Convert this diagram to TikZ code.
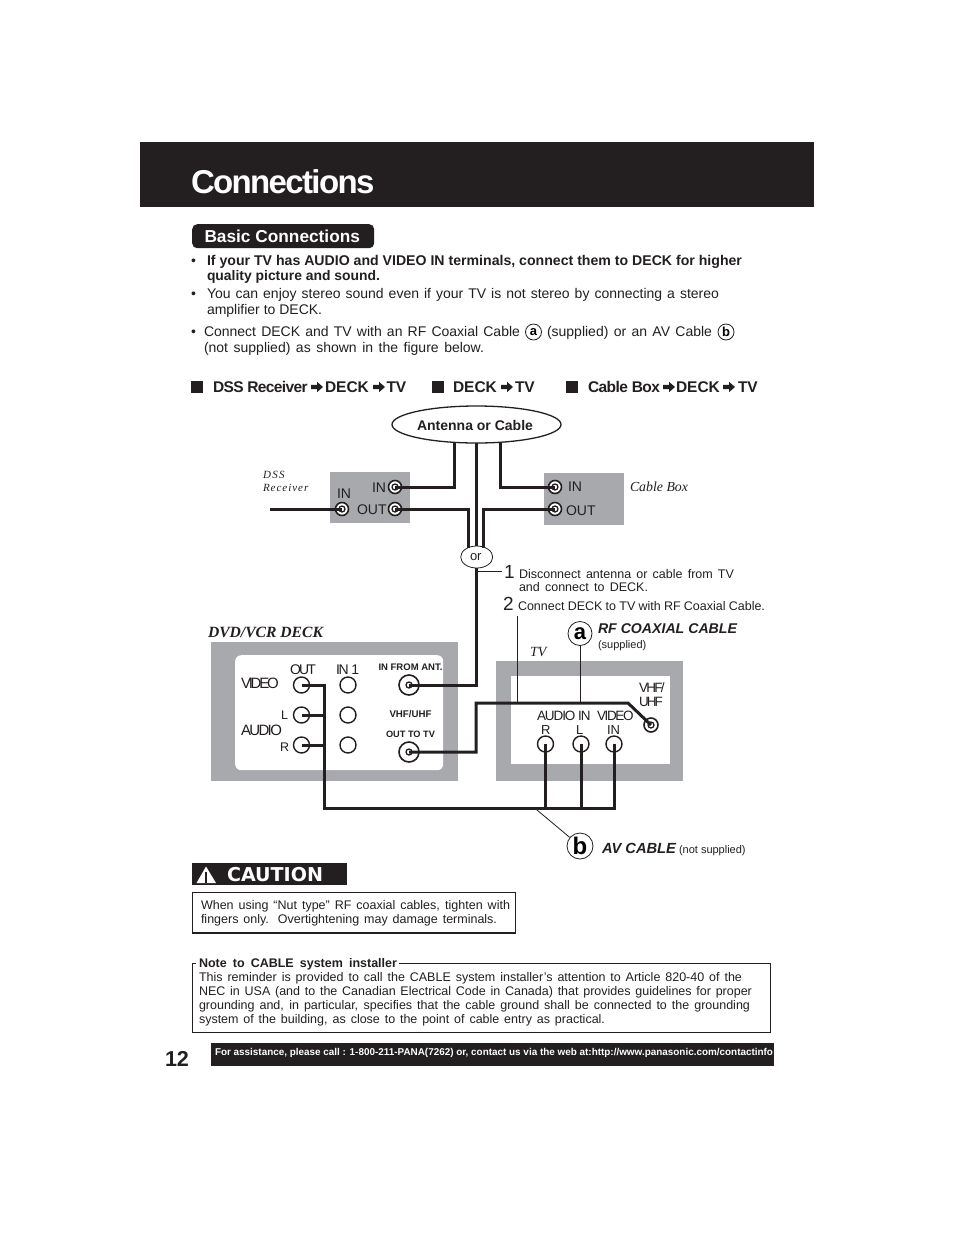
\documentclass[tikz,border=0pt]{standalone}
\usepackage{fontspec}
\setmainfont{Liberation Sans}
\newfontfamily\serifit[ItalicFont={Liberation Serif Italic},BoldItalicFont={Liberation Serif Bold Italic}]{Liberation Serif}
\newfontfamily\cautionfont{DejaVu Sans}
\usetikzlibrary{shapes.geometric,calc}
\definecolor{ink}{HTML}{231F20}
\definecolor{panel}{HTML}{A7A9AC}
\newcommand{\tl}[6][]{\node[lab,#1] (#2) at (#3,#4) {\fontsize{#5}{#5}\selectfont #6};}
\newcommand{\js}[2]{\makebox[#1pt][s]{#2}}
\newcommand{\fitw}[2]{\resizebox{#1pt}{!}{#2}}
\newcommand{\trk}[2]{{\addfontfeature{LetterSpace=#1}#2}}
\newcommand{\harrow}[1]{\fill[ink] ($(#1)+(0,-2.2)$) -- ++(6,0) -- ++(0,-3) -- ++(6,5.2) -- ++(-6,5.2) -- ++(0,-3) -- ++(-6,0) -- cycle;}
\tikzset{
  lab/.style={inner sep=0,outer sep=0,anchor=base west,text=ink},
  wire/.style={line width=3.0,draw=ink,line join=miter},
  lead/.style={line width=0.8,draw=ink},
  coax/.style={circle,draw=ink,fill=white,line width=1.6,minimum size=#1,inner sep=0,
    path picture={\draw[ink,line width=1.3] (path picture bounding box.center) circle (3);}},
  jack/.style={circle,draw=ink,fill=white,line width=1.4,minimum size=16,inner sep=0},
  badge/.style={circle,draw=ink,fill=white,line width=0.8,inner sep=0,minimum size=#1},
  sq/.style={fill=ink,draw=none,minimum size=12,inner sep=0}
}
\begin{document}
\begin{tikzpicture}[x=1pt,y=-1pt]
\useasboundingbox (0,0) rectangle (954,1235);
\fill[white] (0,0) rectangle (954,1235);
% header
\node[fill=ink,minimum width=674,minimum height=65,inner sep=0,anchor=north west] (header) at (140,142) {};
\tl[text=white]{title}{191}{193.5}{33}{\bfseries \trk{-5}{Connections}}
\node[fill=ink,rounded corners=5,minimum width=182,minimum height=24,inner sep=0,anchor=north west] (pill) at (192,224) {};
\tl[text=white]{basic}{204.5}{242}{17}{\bfseries \fitw{155.5}{Basic Connections}}
% bullets
\tl{b1}{191}{265}{14}{•}
\tl{t1}{207}{265}{13.5}{\bfseries\fitw{535}{If your TV has AUDIO and VIDEO IN terminals, connect them to DECK for higher}}
\tl{t2}{207}{280}{13.5}{\bfseries\fitw{173}{quality picture and sound.}}
\tl{b2}{191}{298}{14}{•}
\tl{t3}{207}{298}{14}{\js{512}{You can enjoy stereo sound even if your TV is not stereo by connecting a stereo}}
\tl{t4}{207}{314}{14}{amplifier to DECK.}
\tl{b3}{191}{336}{14}{•}
\tl{t5}{204}{336}{14}{\js{316}{Connect DECK and TV with an RF Coaxial Cable}}
\node[badge=16] (ca) at (533.5,332) {\fontsize{13}{13}\selectfont\bfseries a};
\tl{t6}{547}{336}{14}{\js{165}{(supplied) or an AV Cable}}
\node[badge=16] (cb) at (726,332) {\fontsize{13}{13}\selectfont\bfseries b};
\tl{t7}{204}{352}{14}{\js{280}{(not supplied) as shown in the figure below.}}
% routes
\node[sq,anchor=north west] (s1) at (191,381) {};
\tl{r1}{213}{392}{15.5}{\bfseries\trk{-4}{DSS Receiver}}
\coordinate (a1) at (311,387); \harrow{a1}
\tl{r2}{325}{392}{15.5}{\bfseries DECK}
\coordinate (a2) at (373,387); \harrow{a2}
\tl{r3}{386.5}{392}{15.5}{\bfseries TV}
\node[sq,anchor=north west] (s2) at (432,381) {};
\tl{r4}{453}{392}{15.5}{\bfseries DECK}
\coordinate (a3) at (501,387); \harrow{a3}
\tl{r5}{515}{392}{15.5}{\bfseries TV}
\node[sq,anchor=north west] (s3) at (566,381) {};
\tl{r6}{588}{392}{15.5}{\bfseries\trk{-3.5}{Cable Box}}
\coordinate (a4) at (663,387); \harrow{a4}
\tl{r7}{676}{392}{15.5}{\bfseries DECK}
\coordinate (a5) at (723,387); \harrow{a5}
\tl{r8}{738}{392}{15.5}{\bfseries TV}
% antenna
\node[ellipse,draw=ink,line width=1.3,fill=white,minimum width=169,minimum height=37,inner sep=0] (ant) at (476.5,424.5) {};
\tl{anttext}{417}{430}{14}{\bfseries\fitw{116}{Antenna or Cable}}
% panels
\node[fill=panel,minimum width=80,minimum height=51,inner sep=0,anchor=north west] (dss) at (330,472) {};
\node[fill=panel,minimum width=80,minimum height=52,inner sep=0,anchor=north west] (cbox) at (544,473) {};
\node[fill=panel,minimum width=247,minimum height=139,inner sep=0,anchor=north west] (deck) at (211,642) {};
\node[fill=white,rounded corners=6,minimum width=208,minimum height=115,inner sep=0,anchor=north west] (deckin) at (235,655) {};
\node[fill=panel,minimum width=187,minimum height=120,inner sep=0,anchor=north west] (tv) at (496,661) {};
\node[fill=white,minimum width=159,minimum height=88,inner sep=0,anchor=north west] (tvin) at (511,676) {};
% connectors
\node[coax=13] (dssIn) at (395,487) {};
\node[coax=13] (dssOut) at (395,509) {};
\node[coax=13] (dssIn2) at (342,509) {};
\node[coax=13] (cbIn) at (555,487) {};
\node[coax=13] (cbOut) at (555,509) {};
\node[ellipse,draw=ink,line width=0.8,fill=white,minimum width=32,minimum height=22,inner sep=0] (ornode) at (476.7,557) {};
\tl{ortext}{470}{560}{13}{or}
\node[coax=20] (antIn) at (409,685) {};
\node[coax=20] (toTv) at (409,752) {};
\node[jack] (vo) at (301.5,685) {};
\node[jack] (lo) at (301.5,715) {};
\node[jack] (ro) at (301.5,745) {};
\node[jack] (vi) at (348,685) {};
\node[jack] (li) at (348,715) {};
\node[jack] (ri) at (348,745) {};
\node[coax=14] (vhf) at (651,725) {};
\node[jack] (tr) at (545.5,744) {};
\node[jack] (tl) at (581,744) {};
\node[jack] (tv2) at (614,744) {};
% wire way points
\coordinate (antL) at (454,442);
\coordinate (antM) at (476.7,443);
\coordinate (antR) at (500,442);
\coordinate (dssFree) at (270,509);
\coordinate (orL) at (468.7,547.5);
\coordinate (orM) at (476.7,546);
\coordinate (orR) at (483,547.5);
\coordinate (busX) at (324,808);
% wires
\draw[wire] (antL) |- (dssIn.center);
\draw[wire] (antR) |- (cbIn.center);
\draw[wire] (antM) -- (orM);
\draw[wire] (dssFree) -- (dssIn2.center);
\draw[wire] (dssOut.center) -| (orL);
\draw[wire] (cbOut.center) -| (orR);
\draw[wire] (ornode.south) |- (antIn.center);
\draw[wire] (toTv.center) -| (476,703) -- (628,703) -- (vhf.center);
\draw[wire] (vo.center) -| (busX) -| (tv2.center);
\draw[wire] (lo.center) -- (lo.center -| busX);
\draw[wire] (ro.center) -- (ro.center -| busX);
\draw[wire] (tr.center) -- (tr.center |- busX);
\draw[wire] (tl.center) -- (tl.center |- busX);
% leaders
\draw[lead] (477,571) -- (502,571);
\draw[lead] (517.5,616) -- (517.5,703);
\node[badge=24] (ba) at (580,633.5) {\fontsize{22}{22}\selectfont\bfseries a};
\node[badge=26] (bb) at (580,846) {\fontsize{24}{24}\selectfont\bfseries b};
\draw[lead] (ba.south) -- (580,703);
\draw[lead] (537,810) -- (bb);
% box labels
\tl{dssA}{263}{478}{11}{\serifit\itshape\trk{12}{DSS}}
\tl{dssB}{263}{491}{11}{\serifit\itshape\trk{9}{Receiver}}
\tl{cbl}{630}{491}{13.5}{\serifit\itshape\fitw{58}{Cable Box}}
\tl{l1}{337}{498}{14}{IN}
\tl{l2}{372}{492}{14}{IN}
\tl{l3}{357}{514}{14}{OUT}
\tl{l4}{568}{491}{14}{IN}
\tl{l5}{566}{515}{14}{OUT}
% steps
\tl{n1}{504}{578}{19}{1}
\tl{s1a}{519}{578}{12.5}{\js{215}{Disconnect antenna or cable from TV}}
\tl{s1b}{519}{591}{12.5}{\js{129}{and connect to DECK.}}
\tl{n2}{503}{610}{19}{2}
\tl{s2a}{518}{610}{12.5}{\js{247}{Connect DECK to TV with RF Coaxial Cable.}}
\tl{rf}{598}{633}{14.5}{\bfseries\itshape\fitw{139}{RF COAXIAL CABLE}}
\tl{rfs}{598}{648}{11}{(supplied)}
\tl{tvlab}{530}{656}{14}{\serifit\itshape TV}
% deck labels
\tl{decklab}{208}{637}{15}{\serifit\bfseries\itshape\fitw{115}{DVD/VCR DECK}}
\tl{d1}{290}{674}{14}{\trk{-13}{OUT}}
\tl{d2}{336}{674}{14}{\trk{-9}{IN 1}}
\tl{d3}{378.5}{670}{9.5}{\bfseries\fitw{64}{IN FROM ANT.}}
\tl{d4}{241}{688}{15}{\trk{-15}{VIDEO}}
\tl{d5}{281}{719}{12.5}{L}
\tl{d6}{241}{735}{15}{\trk{-11}{AUDIO}}
\tl{d7}{280}{751}{12.5}{R}
\tl{d8}{389.5}{717}{9.5}{\bfseries\fitw{42}{VHF/UHF}}
\tl{d9}{386}{737}{9.5}{\bfseries\fitw{49}{OUT TO TV}}
% tv labels
\tl{v1}{639}{692}{13.5}{\trk{-13}{VHF/}}
\tl{v2}{639}{706}{13.5}{\trk{-14}{UHF}}
\tl{v3}{537}{720}{13.5}{\trk{-8}{AUDIO IN}}
\tl{v4}{597}{720}{13.5}{\trk{-10}{VIDEO}}
\tl{v5}{541}{734}{13}{R}
\tl{v6}{576}{734}{13}{L}
\tl{v7}{607}{734}{13}{IN}
% av cable
\tl{av}{602}{853}{14.5}{\bfseries\itshape\fitw{74}{AV CABLE}}
\tl{avs}{679}{853}{11}{(not supplied)}
% caution
\node[fill=ink,minimum width=155,minimum height=22,inner sep=0,anchor=north west] (caut) at (192,863) {};
\fill[white] (206,866.5) -- (216,883) -- (196.5,883) -- cycle;
\fill[ink] (205,872) -- (207,872) -- (207,883) -- (205,883) -- cycle;
\tl[text=white]{cauttext}{227}{881}{19}{\cautionfont\bfseries\fitw{96}{CAUTION}}
\node[draw=ink,line width=1.3,minimum width=323,minimum height=40.5,inner sep=0,anchor=north west] (cbox2) at (191.8,891.8) {};
\tl{c1}{201}{909}{12.5}{\js{309}{When using “Nut type” RF coaxial cables, tighten with}}
\tl{c2}{201}{923}{12.5}{\js{296}{fingers only. Overtightening may damage terminals.}}
% note
\node[draw=ink,line width=1.2,minimum width=578,minimum height=69,inner sep=0,anchor=north west] (note) at (191.8,963) {};
\fill[white] (196,958) rectangle (399,970);
\tl{nh}{199}{967}{12.5}{\bfseries\js{198}{Note to CABLE system installer}}
\tl{n1a}{199}{981}{12.5}{\js{543}{This reminder is provided to call the CABLE system installer’s attention to Article 820-40 of the}}
\tl{n2a}{199}{995}{12.5}{\js{553}{NEC in USA (and to the Canadian Electrical Code in Canada) that provides guidelines for proper}}
\tl{n3a}{199}{1009}{12.5}{\js{551}{grounding and, in particular, specifies that the cable ground shall be connected to the grounding}}
\tl{n4a}{199}{1023}{12.5}{\js{406}{system of the building, as close to the point of cable entry as practical.}}
% footer
\tl{page}{165}{1066}{25}{\bfseries\fitw{24}{12}}
\node[fill=ink,minimum width=563,minimum height=23,inner sep=0,anchor=north west] (foot) at (211,1043) {};
\tl[text=white]{foottext}{215}{1055}{10}{\bfseries\fitw{558}{For assistance, please call : 1-800-211-PANA(7262) or, contact us via the web at:http://www.panasonic.com/contactinfo}}
\end{tikzpicture}
\end{document}
